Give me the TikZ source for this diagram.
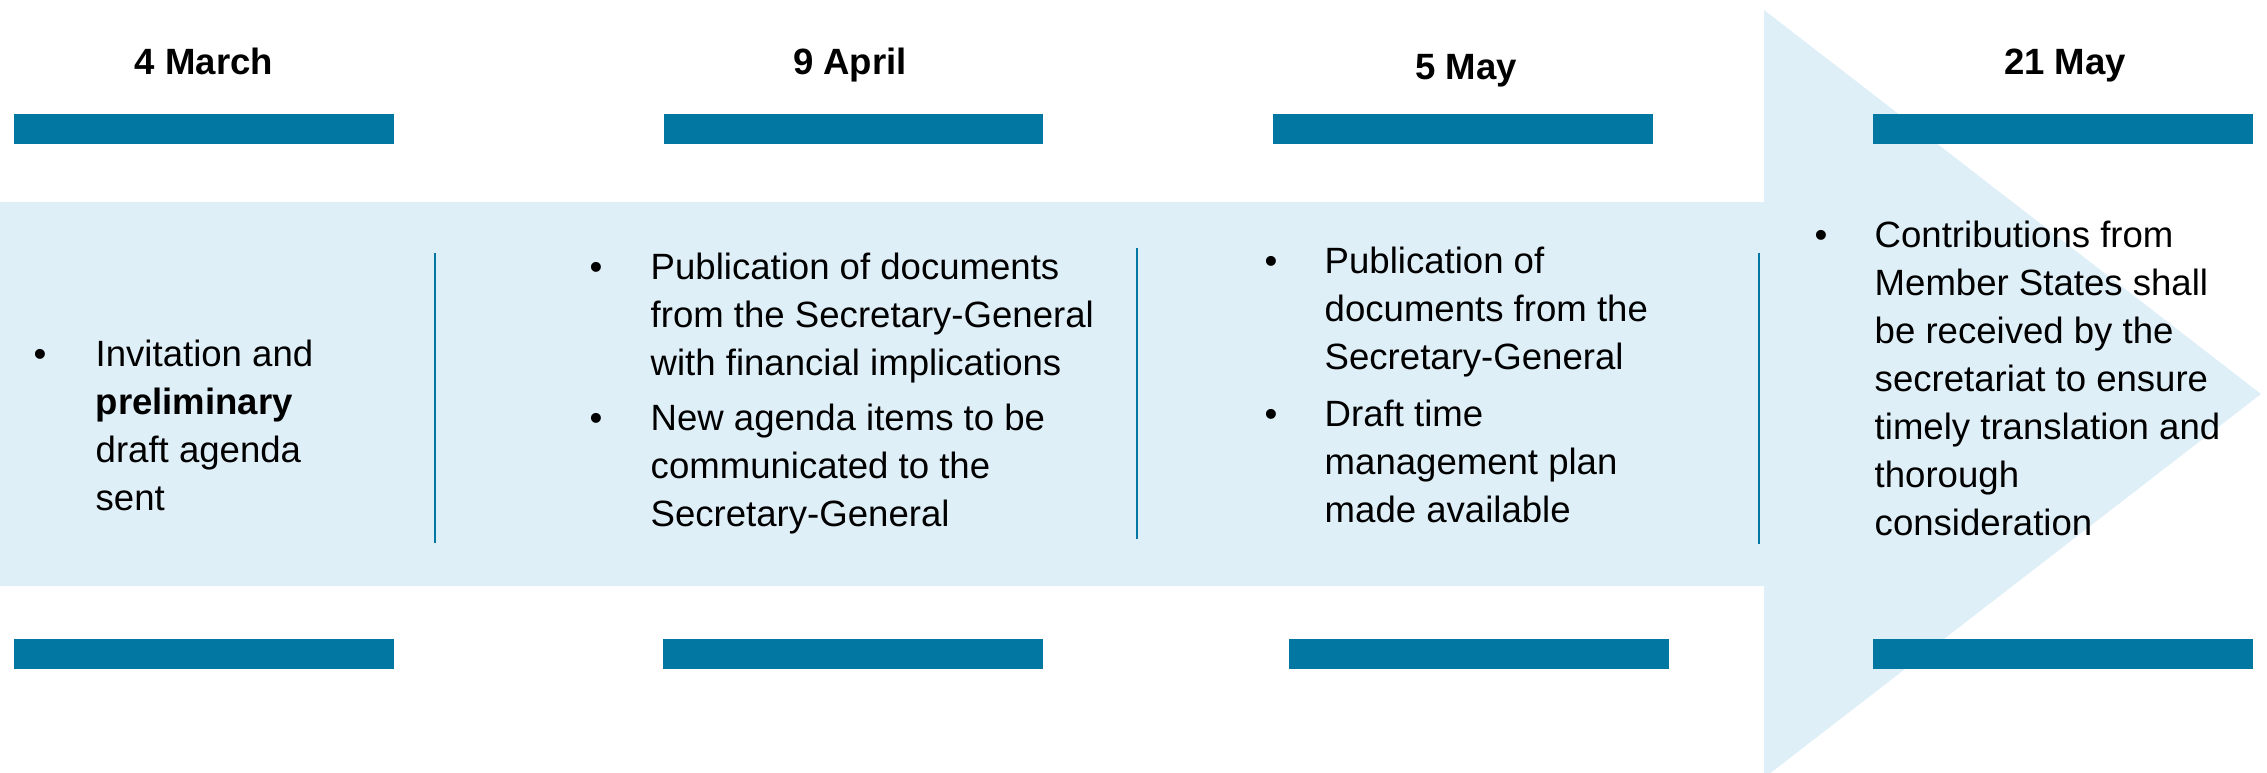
\documentclass[tikz,border=0pt]{standalone}
\usepackage{fontspec}
\setmainfont{Liberation Sans}
\definecolor{bandblue}{RGB}{223,239,248}
\definecolor{barblue}{RGB}{2,119,161}
\newcommand{\itemlines}[1]{\parbox[t]{7cm}{\raggedright #1}}
\begin{document}
\begin{tikzpicture}[x=0.01cm,y=-0.01cm,
  bodyfont/.style={font=\fontsize{10.4pt}{13.66pt}\selectfont},
  datelabel/.style={inner sep=0pt, anchor=base, font=\fontsize{10.4pt}{12pt}\selectfont\bfseries},
  bulletmark/.style={inner sep=0pt, anchor=base, bodyfont},
  itemtext/.style={inner sep=0pt, anchor=base west, bodyfont},
  bar/.style={fill=barblue, draw=none},
  divider/.style={draw=barblue, line width=0.6pt}]

\useasboundingbox (0,0) rectangle (2267,772);
\clip (0,0) rectangle (2267,772);

% timeline band ending in an arrow head
\fill[bandblue] (0,202) -- (1764,202) -- (1764,10) -- (2261,394)
  -- (1764,778) -- (1764,586) -- (0,586) -- cycle;

% top and bottom bars of each stage
\fill[bar] (14,114) rectangle (394,144);
\fill[bar] (664,114) rectangle (1043,144);
\fill[bar] (1273,114) rectangle (1653,144);
\fill[bar] (1873,114) rectangle (2253,144);
\fill[bar] (14,639) rectangle (394,669);
\fill[bar] (663,639) rectangle (1043,669);
\fill[bar] (1289,639) rectangle (1669,669);
\fill[bar] (1873,639) rectangle (2253,669);

% separators between stages
\draw[divider] (435,253) -- (435,543);
\draw[divider] (1137,248) -- (1137,539);
\draw[divider] (1759,253) -- (1759,544);

% dates
\node[datelabel] (d1) at (204,74) {4 March};
\node[datelabel] (d2) at (850,74) {9 April};
\node[datelabel] (d3) at (1466,79) {5 May};
\node[datelabel] (d4) at (2065,74) {21 May};

% stage 1
\node[bulletmark] (b1) at (40,366) {•};
\node[itemtext] (t1) at (95,366) {\itemlines{Invitation and\\\textbf{preliminary}\\draft agenda\\sent}};

% stage 2
\node[bulletmark] (b2a) at (596,279) {•};
\node[itemtext] (t2a) at (650,279) {\itemlines{Publication of documents\\from the Secretary-General\\with financial implications}};
\node[bulletmark] (b2b) at (596,430) {•};
\node[itemtext] (t2b) at (650,430) {\itemlines{New agenda items to be\\communicated to the\\Secretary-General}};

% stage 3
\node[bulletmark] (b3a) at (1271,273) {•};
\node[itemtext] (t3a) at (1324,273) {\itemlines{Publication of\\documents from the\\Secretary-General}};
\node[bulletmark] (b3b) at (1271,426) {•};
\node[itemtext] (t3b) at (1324,426) {\itemlines{Draft time\\management plan\\made available}};

% stage 4
\node[bulletmark] (b4) at (1821,247) {•};
\node[itemtext] (t4) at (1874,247) {\itemlines{Contributions from\\Member States shall\\be received by the\\secretariat to ensure\\timely translation and\\thorough\\consideration}};
\end{tikzpicture}
\end{document}
